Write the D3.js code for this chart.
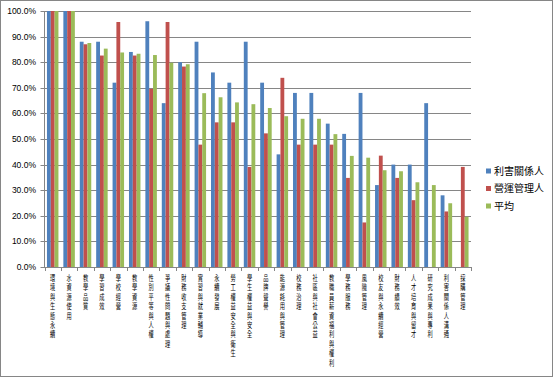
<!DOCTYPE html>
<html>
<head>
<meta charset="utf-8">
<script src="https://cdn.jsdelivr.net/npm/d3@7"></script>
<style>
  body { margin: 0; background: #fff; }
  svg { display: block; }
</style>
</head>
<body>
<div id="chart"></div>
<script>
// Grouped bars: three series per issue, sorted by the average.

const categories = [
  '環境與生態永續', '水資源使用', '教學品質', '學習成效', '學校經營', '教學資源',
  '性別平等與人權', '爭議性問題與處理', '財務收支管理', '實習與就業輔導', '永續發展',
  '勞工權益安全與衛生', '學生權益與安全', '品牌聲譽', '能源耗用與管理', '校務治理',
  '社區與社會公益', '教職員薪資福利與權利', '學務服務', '風險管理', '校友與永續經營',
  '財務績效', '人才培育與留才', '研究成果與專利', '利害關係人溝通', '採購管理',
];
const seriesNames = ['利害關係人', '營運管理人', '平均'];
const stakeholders = [100, 100, 88, 88, 72, 84, 96, 64, 80, 88, 76, 72, 88, 72, 44, 68, 68, 56, 52, 68, 32, 40, 40, 64, 28, 0];
const managers = [100, 100, 87, 82.6, 95.7, 82.6, 69.6, 95.7, 78.3, 47.8, 56.5, 56.5, 39.1, 52.2, 73.9, 47.8, 47.8, 47.8, 34.8, 17.4, 43.5, 34.8, 26.1, 0, 21.7, 39.1];
const average = [100, 100, 87.5, 85.3, 83.8, 83.3, 82.8, 79.8, 79.2, 67.9, 66.3, 64.3, 63.6, 62.1, 58.9, 57.9, 57.9, 51.9, 43.4, 42.7, 37.8, 37.4, 33.1, 32, 24.9, 19.6];
const yTicks = [0, 10, 20, 30, 40, 50, 60, 70, 80, 90, 100];

const COLORS = ['#4F81BD', '#C0504D', '#9BBB59'];
const values = [stakeholders, managers, average];
const GRID = '#868686';

const W = 554, H = 378;
const M = { left: 44.5, right: 471, top: 11, bottom: 267 };

const svg = d3.select('#chart').append('svg')
  .attr('width', W).attr('height', H);

svg.append('rect')
  .attr('x', 0.5).attr('y', 0.5)
  .attr('width', W - 2).attr('height', H - 2)
  .attr('fill', '#fff').attr('stroke', GRID);

const y = d3.scaleLinear().domain([0, 100]).range([M.bottom, M.top]);
const x0 = d3.scaleBand().domain(categories).range([M.left, M.right])
  .paddingInner(0.3).paddingOuter(0.15);
const x1 = d3.scaleBand().domain(seriesNames).range([0, x0.bandwidth()]);

// gridlines
svg.append('g').selectAll('line')
  .data(yTicks)
  .join('line')
  .attr('x1', M.left - 4).attr('x2', M.right)
  .attr('y1', (d) => Math.round(y(d)) + 0.5)
  .attr('y2', (d) => Math.round(y(d)) + 0.5)
  .attr('stroke', GRID);

// bars
const rows = categories.map((c, i) => ({ c, v: values.map((s) => s[i]) }));
svg.append('g').selectAll('g')
  .data(rows)
  .join('g')
  .attr('transform', (d) => `translate(${x0(d.c)},0)`)
  .selectAll('rect')
  .data((d) => d.v.map((v, k) => ({ v, k })))
  .join('rect')
  .attr('x', (d) => x1(seriesNames[d.k]))
  .attr('width', x1.bandwidth())
  .attr('y', (d) => y(d.v))
  .attr('height', (d) => y(0) - y(d.v))
  .attr('fill', (d) => COLORS[d.k]);

// axes
svg.append('line')
  .attr('x1', M.left).attr('x2', M.left).attr('y1', M.top).attr('y2', M.bottom + 0.5)
  .attr('stroke', GRID);
svg.append('line')
  .attr('x1', M.left).attr('x2', M.right)
  .attr('y1', Math.round(y(0)) + 0.5).attr('y2', Math.round(y(0)) + 0.5)
  .attr('stroke', GRID);
svg.append('g').selectAll('line')
  .data(d3.range(categories.length + 1))
  .join('line')
  .attr('x1', (i) => Math.round(M.left + i * x0.step()) + 0.5)
  .attr('x2', (i) => Math.round(M.left + i * x0.step()) + 0.5)
  .attr('y1', M.bottom).attr('y2', M.bottom + 4)
  .attr('stroke', GRID);

svg.append('g').selectAll('text')
  .data(yTicks)
  .join('text')
  .attr('x', 36).attr('y', (d) => y(d))
  .attr('dy', '0.35em')
  .attr('text-anchor', 'end')
  .style('font', '8.5px "Liberation Sans", Arial, sans-serif')
  .attr('fill', '#000')
  .text((d) => d.toFixed(1) + '%');

// vertical category labels (stacked upright glyphs, squeezed horizontally)
svg.append('g').selectAll('text')
  .data(categories)
  .join('text')
  .attr('transform', (d) => `translate(${x0(d) + x0.bandwidth() / 2},274) scale(0.65,1)`)
  .attr('x', 0).attr('y', 0)
  .style('writing-mode', 'vertical-rl')
  .style('text-orientation', 'upright')
  .style('letter-spacing', '1.4px')
  .style('font', '8px "Noto Sans CJK TC", sans-serif')
  .attr('fill', '#000')
  .text((d) => d);

// legend
const legend = svg.append('g').selectAll('g')
  .data(seriesNames)
  .join('g')
  .attr('transform', (_, i) => `translate(486,${171 + i * 17.5})`);
legend.append('rect')
  .attr('x', 0).attr('y', -2.5).attr('width', 5).attr('height', 5)
  .attr('fill', (_, i) => COLORS[i]);
legend.append('text')
  .attr('x', 8).attr('y', 0).attr('dy', '0.36em')
  .style('font', '10px "Noto Sans CJK TC", sans-serif')
  .attr('fill', '#000')
  .text((d) => d);
</script>
</body>
</html>
